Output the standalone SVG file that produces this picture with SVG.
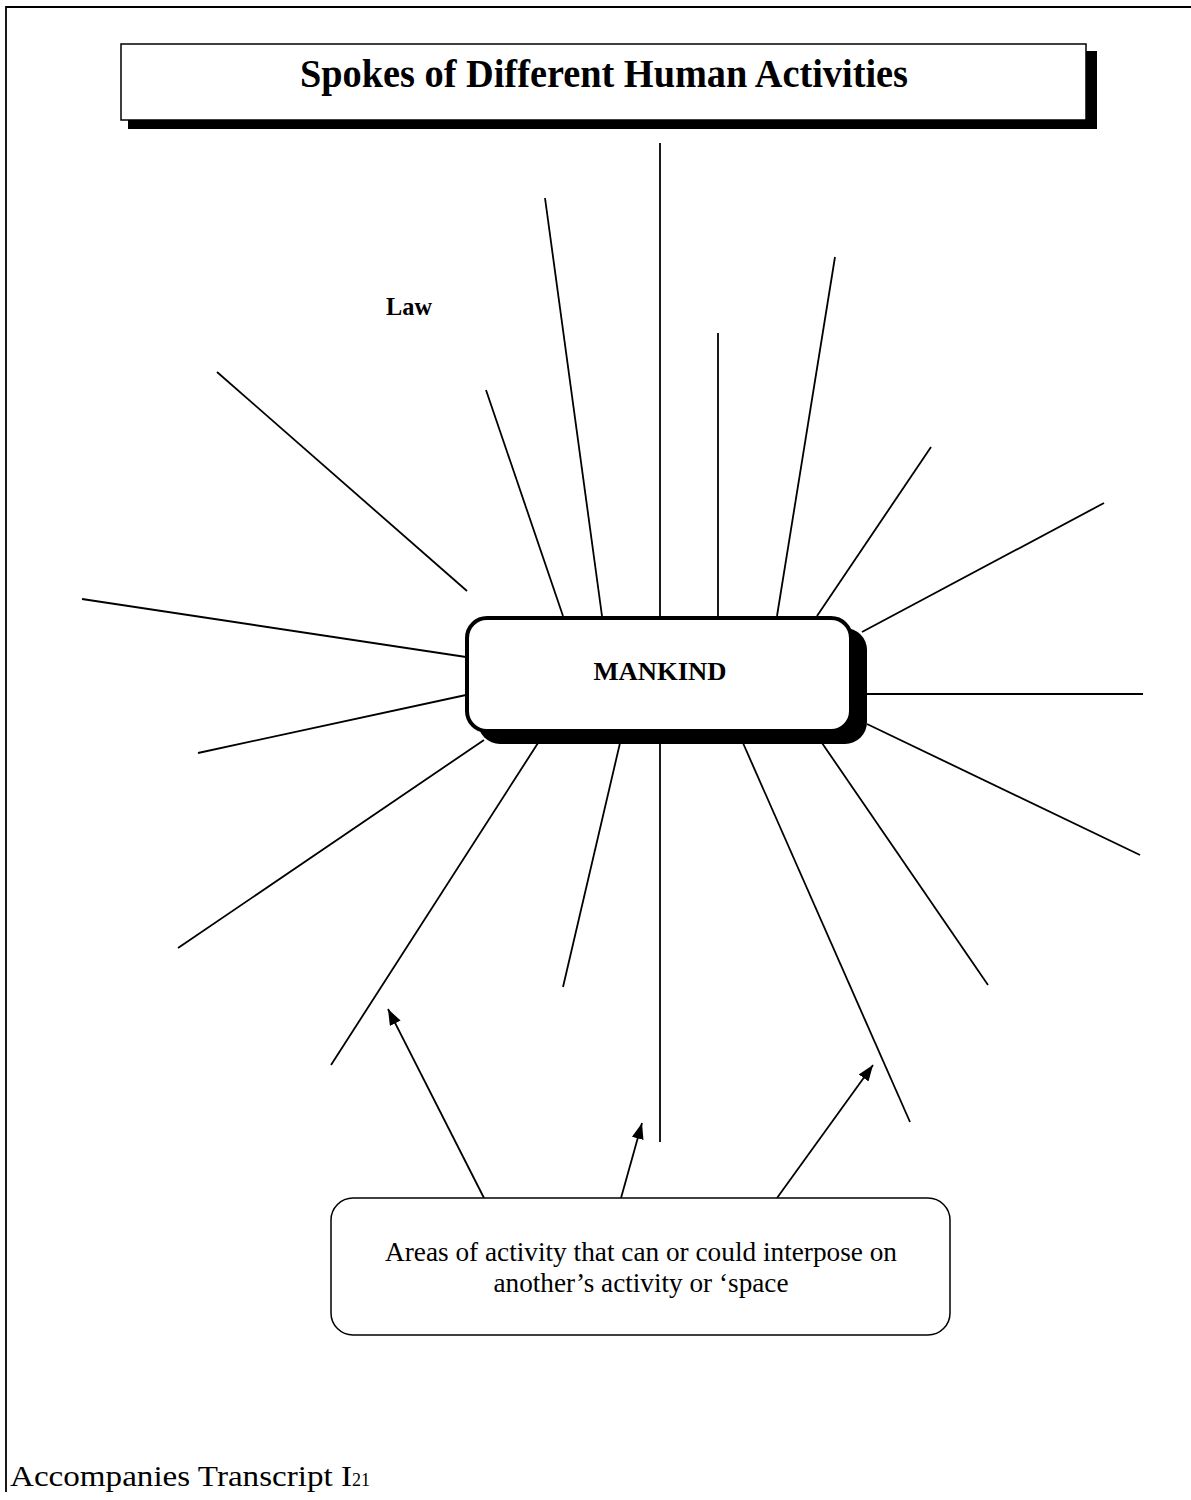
<svg xmlns="http://www.w3.org/2000/svg" width="1191" height="1500" viewBox="0 0 1191 1500">
<defs>
<style>
.spoke{stroke:#000;stroke-width:1.8;fill:none}
.arrow{stroke:#000;stroke-width:1.8;fill:none;marker-end:url(#ah)}
.serif{font-family:"Liberation Serif","Times New Roman",serif;fill:#000}
.bold{font-weight:bold}
</style>
<marker id="ah" viewBox="0 0 16 12" refX="16" refY="6" markerWidth="16" markerHeight="12" markerUnits="userSpaceOnUse" orient="auto">
<path d="M0,0 L16,6 L0,12 Z" fill="#000"/>
</marker>
</defs>
<rect width="1191" height="1500" fill="#fff"/>
<g id="page-border" fill="none" stroke="#000" stroke-width="1.8">
<path d="M6,1492 L6,7 L1191,7"/>
</g>
<g id="title">
<rect x="128" y="51" width="969" height="78" fill="#000"/>
<rect x="121" y="44" width="965" height="76" fill="#fff" stroke="#000" stroke-width="1.5"/>
<text class="serif bold" x="604" y="87" font-size="40" text-anchor="middle" textLength="608" lengthAdjust="spacingAndGlyphs">Spokes of Different Human Activities</text>
</g>
<g id="connectors">
<line class="spoke" x1="660" y1="143" x2="660" y2="616"/>
<line class="spoke" x1="545" y1="198" x2="602" y2="616"/>
<line class="spoke" x1="486" y1="390" x2="563" y2="616"/>
<line class="spoke" x1="217" y1="372" x2="467" y2="591"/>
<line class="spoke" x1="82" y1="599" x2="466" y2="657"/>
<line class="spoke" x1="198" y1="753" x2="466" y2="695"/>
<line class="spoke" x1="178" y1="948" x2="484" y2="740"/>
<line class="spoke" x1="331" y1="1065" x2="538" y2="743"/>
<line class="spoke" x1="563" y1="987" x2="620" y2="743"/>
<line class="spoke" x1="660" y1="743" x2="660" y2="1142"/>
<line class="spoke" x1="743" y1="743" x2="910" y2="1122"/>
<line class="spoke" x1="822" y1="743" x2="988" y2="985"/>
<line class="spoke" x1="867" y1="724" x2="1140" y2="855"/>
<line class="spoke" x1="867" y1="694" x2="1143" y2="694"/>
<line class="spoke" x1="862" y1="632" x2="1104" y2="503"/>
<line class="spoke" x1="817" y1="616" x2="931" y2="447"/>
<line class="spoke" x1="777" y1="616" x2="835" y2="257"/>
<line class="spoke" x1="718" y1="333" x2="718" y2="616"/>
<line class="arrow" x1="484" y1="1198" x2="388" y2="1009"/>
<line class="arrow" x1="621" y1="1198" x2="642" y2="1123"/>
<line class="arrow" x1="777" y1="1198" x2="873" y2="1065"/>
</g>
<g id="mankind">
<rect x="478" y="628" width="389" height="116" rx="22" fill="#000"/>
<rect x="467" y="618" width="384" height="113" rx="20" fill="#fff" stroke="#000" stroke-width="4"/>
<text class="serif bold" x="660" y="680" font-size="26" text-anchor="middle" textLength="133" lengthAdjust="spacingAndGlyphs">MANKIND</text>
</g>
<g id="law">
<text class="serif bold" x="386" y="315" font-size="26" textLength="46" lengthAdjust="spacingAndGlyphs">Law</text>
</g>
<g id="areas">
<rect x="331" y="1198" width="619" height="137" rx="22" fill="#fff" stroke="#000" stroke-width="1.5"/>
<text class="serif" x="641" y="1261" font-size="27" text-anchor="middle" textLength="512" lengthAdjust="spacingAndGlyphs">Areas of activity that can or could interpose on</text>
<text class="serif" x="641" y="1292" font-size="27" text-anchor="middle" textLength="295" lengthAdjust="spacingAndGlyphs">another’s activity or ‘space</text>
</g>
<g id="footer">
<text class="serif" x="10" y="1486" font-size="29"><tspan textLength="342" lengthAdjust="spacingAndGlyphs">Accompanies Transcript I</tspan><tspan font-size="18">21</tspan></text>
</g>
</svg>
